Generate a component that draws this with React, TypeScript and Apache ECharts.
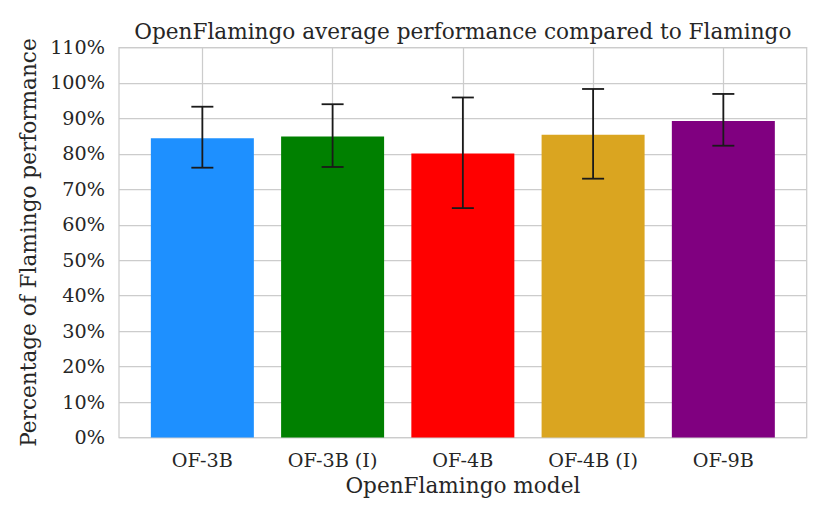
import React, { useEffect, useRef } from "react";
import * as echarts from "echarts";

const categories = ["OF-3B", "OF-3B (I)", "OF-4B", "OF-4B (I)", "OF-9B"];
const means = [84.4, 84.9, 80.1, 85.4, 89.3];
const errLow = [76.1, 76.3, 64.7, 73.0, 82.3];
const errHigh = [93.3, 94.0, 95.9, 98.3, 96.9];
const colors = ["#1E90FF", "#008000", "#FF0000", "#DAA520", "#800080"];
const yTicksMax = 110;

const FONT = "DejaVu Serif";
const TXT = "#262626";
const TICK_FS = 19.2;
const NAME_FS = 21.6;

export default function App() {
  const ref = useRef<HTMLDivElement>(null);
  useEffect(() => {
    if (!ref.current) return;
    const chart = echarts.init(ref.current, null, { renderer: "svg" });
    const plotLeft = 119;
    const plotRight = 806.7;
    const unit = (plotRight - plotLeft) / 5.28;
    const c0 = plotLeft + 0.64 * unit;
    const c4 = c0 + 4 * unit;
    chart.setOption({
      animation: false,
      backgroundColor: "#ffffff",
      textStyle: { fontFamily: FONT },
      graphic: [
        {
          type: "text",
          x: (plotLeft + plotRight) / 2,
          y: 31.5,
          style: {
            text: "OpenFlamingo average performance compared to Flamingo",
            font: `${NAME_FS}px "${FONT}"`,
            fill: TXT,
            textAlign: "center",
            textVerticalAlign: "middle",
          },
        },
      ],
      grid: [
        {
          left: plotLeft,
          right: 830 - plotRight,
          top: 47.5,
          bottom: 519 - 437.5,
          show: true,
          borderColor: "#cccccc",
          borderWidth: 1.25,
          containLabel: false,
        },
        {
          left: c0,
          right: 830 - c4,
          top: 47.5,
          bottom: 519 - 437.5,
          containLabel: false,
        },
      ],
      xAxis: [
        { gridIndex: 0, type: "value", min: 0, max: 1, show: false },
        {
          gridIndex: 1,
          type: "value",
          min: 0,
          max: categories.length - 1,
          interval: 1,
          axisLine: { show: false },
          axisTick: { show: false },
          axisLabel: {
            formatter: (v: number) => categories[v] ?? "",
            fontFamily: FONT,
            fontSize: TICK_FS,
            color: TXT,
            margin: 13,
          },
          splitLine: { show: true, lineStyle: { color: "#cccccc", width: 1.25 } },
          name: "OpenFlamingo model",
          nameLocation: "middle",
          nameGap: 36,
          nameTextStyle: { fontFamily: FONT, fontSize: NAME_FS, color: TXT },
        },
      ],
      yAxis: [
        {
          gridIndex: 0,
          type: "value",
          min: 0,
          max: yTicksMax,
          interval: 10,
          axisLine: { show: false },
          axisTick: { show: false },
          axisLabel: {
            formatter: "{value}%",
            fontFamily: FONT,
            fontSize: TICK_FS,
            color: TXT,
            margin: 14,
          },
          splitLine: { show: true, lineStyle: { color: "#cccccc", width: 1.25 } },
          name: "Percentage of Flamingo performance",
          nameLocation: "middle",
          nameRotate: 90,
          nameGap: 80,
          nameTextStyle: { fontFamily: FONT, fontSize: NAME_FS, color: TXT },
        },
        { gridIndex: 1, type: "value", min: 0, max: yTicksMax, show: false },
      ],
      series: [
        {
          type: "bar",
          xAxisIndex: 1,
          yAxisIndex: 1,
          barWidth: 103,
          clip: false,
          data: means.map((m, i) => ({
            value: [i, m],
            itemStyle: { color: colors[i] },
          })),
        },
        {
          type: "custom",
          xAxisIndex: 1,
          yAxisIndex: 1,
          clip: false,
          z: 5,
          data: categories.map((_, i) => [i, errLow[i], errHigh[i]]),
          encode: { x: 0, y: [1, 2] },
          renderItem: (params: any, api: any) => {
            const x = api.value(0);
            const lo = api.coord([x, api.value(1)]);
            const hi = api.coord([x, api.value(2)]);
            const half = 11;
            const st = { stroke: "#1a1a1a", lineWidth: 1.8 };
            return {
              type: "group",
              children: [
                { type: "line", shape: { x1: lo[0], y1: lo[1], x2: hi[0], y2: hi[1] }, style: st },
                { type: "line", shape: { x1: lo[0] - half, y1: lo[1], x2: lo[0] + half, y2: lo[1] }, style: st },
                { type: "line", shape: { x1: hi[0] - half, y1: hi[1], x2: hi[0] + half, y2: hi[1] }, style: st },
              ],
            };
          },
        },
      ],
    });
    return () => chart.dispose();
  }, []);
  return (
    <div
      ref={ref}
      style={{ position: "fixed", left: 0, top: 0, width: 830, height: 519 }}
    />
  );
}
